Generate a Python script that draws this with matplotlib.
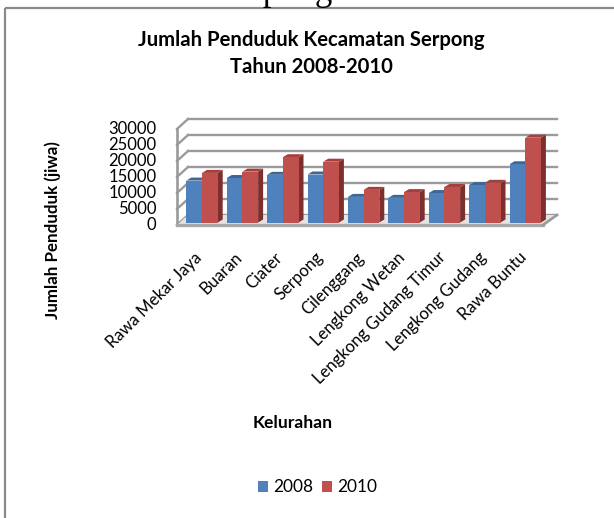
import matplotlib
matplotlib.use("Agg")
import matplotlib.pyplot as plt
from matplotlib.patches import Polygon, Rectangle

W, H = 614, 518
categories = ["Rawa Mekar Jaya", "Buaran", "Ciater", "Serpong", "Cilenggang",
              "Lengkong Wetan", "Lengkong Gudang Timur", "Lengkong Gudang", "Rawa Buntu"]
v2008 = [13100, 13900, 14900, 15000, 8000, 7700, 9200, 11700, 18200]
v2010 = [15500, 15900, 20400, 19000, 10200, 9500, 11100, 12400, 26500]
yticks = [0, 5000, 10000, 15000, 20000, 25000, 30000]
BLUE, BLUE_T, BLUE_S = "#4f81bd", "#3d6796", "#2f5078"
RED, RED_T, RED_S = "#c0504d", "#a33f3c", "#7c2f2d"
GRID = "#9a9a9a"

plt.rcParams["font.family"] = ["Lato", "DejaVu Sans"]
fig = plt.figure(figsize=(W / 100, H / 100), dpi=100)

# page + chart frame (runs off the right and bottom edges)
bg = fig.add_axes([0, 0, 1, 1])
bg.set_xlim(0, W); bg.set_ylim(H, 0); bg.axis("off")
bg.add_patch(Rectangle((5, 7.5), W + 20, H + 20, fill=False, ec="#8a8a8a", lw=1.6))
bg.text(341, 0.4, "Kecamatan Serpong.", family="Liberation Serif", fontsize=25,
        va="baseline", ha="right", color="black")

bg.text(311, 40, "Jumlah Penduduk Kecamatan Serpong", ha="center", va="center",
        fontsize=14.6, fontweight="bold", color="black")
bg.text(311, 67, "Tahun 2008-2010", ha="center", va="center",
        fontsize=14.6, fontweight="bold", color="black")
bg.text(53, 230, "Jumlah Penduduk (jiwa)", ha="center", va="center", rotation=90,
        fontsize=12.2, fontweight="bold", color="black")
bg.text(293, 423, "Kelurahan", ha="center", va="center",
        fontsize=12.6, fontweight="bold", color="black")

# plot: pixel frame of the front plane
L, R, Y0, YT = 177, 543, 225, 129
ax = fig.add_axes([L / W, 1 - Y0 / H, (R - L) / W, (Y0 - YT) / H])
pitch = 40.4
ax.set_xlim(-(202 - L) / pitch, (R - 202) / pitch)
ax.set_ylim(0, 30000)
ax.axis("off")
px = 30000 / (Y0 - YT)            # value units per pixel
dxl, dxr, dy_wall = 11 / pitch, 14 / pitch, 10 * px   # depth of the box
dx_bar, dy_bar = 5 / pitch, 3 * px       # depth of the bars
base = 2.5 * px
x0, x1 = ax.get_xlim()

for t in yticks:
    ax.plot([x0 + dxl, x1 + dxr], [t + dy_wall] * 2, color=GRID, lw=1.7,
            clip_on=False, zorder=1)
    ax.plot([x0, x0 + dxl], [t, t + dy_wall], color=GRID, lw=1.7, clip_on=False, zorder=1)
ax.plot([x0, x0], [0, 30000], color=GRID, lw=1.9, clip_on=False, zorder=1)
ax.add_patch(Polygon([(x0, 0), (x1, 0), (x1 + dxr, dy_wall), (x0 + dxl, dy_wall)],
                     fc="#e4e4e4", ec="none", clip_on=False, zorder=1))
ax.plot([x0, x1], [0, 0], color="#a8a8a8", lw=2.4, clip_on=False, zorder=2)
ax.plot([x1, x1 + dxr], [0, dy_wall], color=GRID, lw=1.9, clip_on=False, zorder=2)

w = 15.7 / pitch
def bar3d(xl, v, front, top, side, z):
    t = base + v
    ax.add_patch(Polygon([(xl + w, base), (xl + w + dx_bar, base + dy_bar),
                          (xl + w + dx_bar, t + dy_bar), (xl + w, t)],
                         fc=side, ec="none", clip_on=False, zorder=z))
    ax.add_patch(Polygon([(xl, t), (xl + w, t), (xl + w + dx_bar, t + dy_bar), (xl + dx_bar, t + dy_bar)],
                         fc=top, ec="none", clip_on=False, zorder=z))
    ax.add_patch(Rectangle((xl, base), w, v, fc=front, ec="none", clip_on=False, zorder=z))

for i in range(len(categories)):
    bar3d(i - w, v2008[i], BLUE, BLUE_T, BLUE_S, 3)
    bar3d(i, v2010[i], RED, RED_T, RED_S, 4)

for t in yticks:
    bg.text(156.5, Y0 + 0.5 - t / px, str(t), ha="right", va="center", fontsize=12, color="black")

for i, c in enumerate(categories):
    xp = 199 + (524 - 199) * i / 8
    bg.text(xp, 255, c, rotation=45, rotation_mode="anchor", ha="right", va="center",
            fontsize=12, color="black")

# legend
for xp, col, lab in [(258, BLUE, "2008"), (322, RED, "2010")]:
    bg.add_patch(Rectangle((xp, 481), 10, 11, fc=col, ec="none"))
    bg.text(xp + 15, 487, lab, ha="left", va="center", fontsize=12.4, color="black")

fig.savefig("out.png", dpi=100)
